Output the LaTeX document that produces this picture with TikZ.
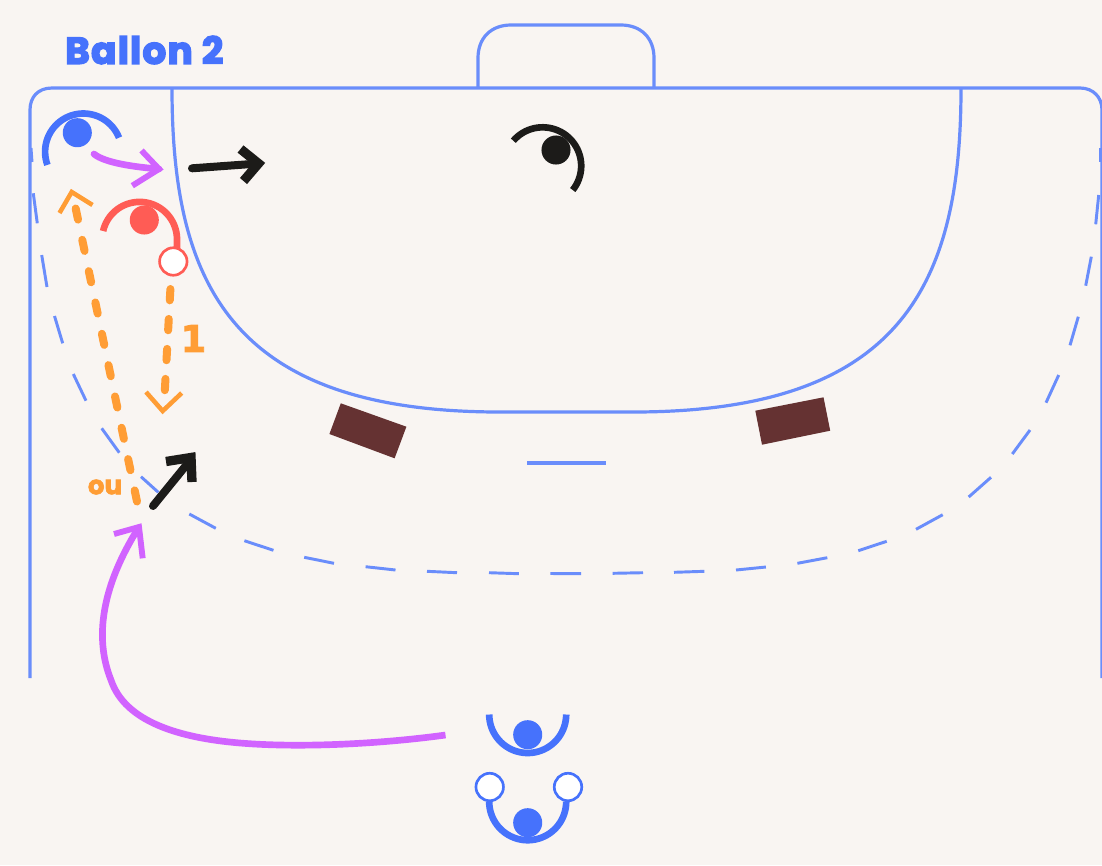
\documentclass[tikz,border=0pt]{standalone}
\usepackage{fontspec}
\newfontfamily\hvfont{Poppins}[BoldFeatures={FakeBold=2.6}]
\newfontfamily\ttlfont{Poppins}[BoldFeatures={FakeBold=4},LetterSpace=3.5]
\newfontfamily\djfont{DejaVu Sans}[BoldFeatures={FakeBold=2.6}]
\definecolor{bg}{HTML}{F9F5F2}
\definecolor{court}{HTML}{6A8DFB}
\definecolor{bluep}{HTML}{4672FC}
\definecolor{redp}{HTML}{FF5C55}
\definecolor{blackp}{HTML}{1C1B19}
\definecolor{purp}{HTML}{D163FF}
\definecolor{oran}{HTML}{FF9D35}
\definecolor{brownp}{HTML}{653232}
\tikzset{
  courtline/.style={draw=court,line width=2.4pt},
  courtdash/.style={draw=court,line width=2.2pt},
  post/.style={fill=brownp},
  playerdot/.style={circle,inner sep=0pt,minimum size=21.8pt,fill=#1},
  ballnode/.style={circle,inner sep=0pt,minimum size=20.6pt,fill=white,draw=#1,line width=2pt},
  armarc/.style={draw=#1,line width=5pt},
  orangedash/.style={draw=oran,line width=6pt,line cap=round},
  orangehead/.style={draw=oran,line width=3.4pt,miter limit=10},
  purpleline/.style={draw=purp,line width=5pt},
  purplehead/.style={draw=purp,line width=4.4pt,miter limit=10},
  blackline/.style={draw=blackp,line width=6pt,line cap=round},
  blackhead/.style={draw=blackp,line width=7pt,miter limit=10},
}
\newcommand{\armcurve}[6]{\draw[armarc=#1] plot[domain=#5:#6,samples=40,smooth] ({#2+#4*cos(\x)},{#3+#4*sin(\x)});}
\begin{document}
\begin{tikzpicture}[x=0.75pt,y=-0.75pt]
\useasboundingbox (0,0) rectangle (1102,865);
\fill[bg] (0,0) rectangle (1102,865);
% court
\draw[courtline] (30,678) -- (30,110) .. controls (30,97) and (38,88) .. (52,88) -- (1080,88) .. controls (1093,88) and (1102,97) .. (1102,110) -- (1102,678);
\draw[courtline] (478,88) -- (478,58) .. controls (478,38) and (491,25) .. (511,25) -- (621,25) .. controls (641,25) and (654,38) .. (654,58) -- (654,88);
\draw[courtline] (172,88) .. controls (172,285) and (232,412) .. (500,412) -- (633,412) .. controls (901,412) and (961,285) .. (961,88);
\draw[courtline] (527,463) -- (606,463);
\foreach \a/\b/\c/\d in {
 31/148/32/162, 33.3/193.3/37.3/223.3, 41.7/255/47/287, 54.5/316/62.7/343.3,
 73.3/374/86/400.7, 101.7/428.3/119.3/452.7, 141/476.7/158.3/492.3,
 189.3/514/215.8/528.3, 244.4/540.7/273.4/550.3, 304.2/557.3/334/563.3,
 365.6/566.7/395.5/570, 427/571.3/457/572.7, 489/572.7/518.8/573.7,
 550.4/573.5/581/573.7, 612.7/573.3/643/572.7, 674/572.3/704.4/571.3,
 736/570/765.9/567, 797.4/563.3/827.3/557.7, 858.3/550.7/886.7/541.3,
 916/529.3/942.7/514.7, 968.7/497/991/477.3, 1012.3/454/1030/430,
 1046/402.7/1058.7/375, 1070/345.3/1078.3/316.7, 1085.7/285.7/1091.3/256.7,
 1095.7/224.3/1098.7/195, 1100.5/148/1100.5/162}
 {\draw[courtdash] (\a,\b) -- (\c,\d);}
% posts
\fill[post] (340.8,403.3) -- (406.4,426.7) -- (394.6,458.3) -- (329.4,434) -- cycle;
\fill[post] (755.3,410.7) -- (823.5,397.3) -- (830.2,430.7) -- (762,444.7) -- cycle;
% title
\node[anchor=west,inner sep=0pt,text=bluep,font=\ttlfont\bfseries\fontsize{28pt}{30pt}\selectfont] (title) at (65,50) {Ballon 2};
% players
\node[playerdot=bluep] (pblue) at (77.3,132.7) {};
\armcurve{bluep}{83.4}{151.8}{38.3}{160}{338.4}
\node[playerdot=redp] (pred) at (144.3,220) {};
\draw[armarc=redp] plot[domain=192.8:356.5,samples=40,smooth] ({139.6+37.4*cos(\x)},{239.3+37.4*sin(\x)}) -- (177,252);
\node[ballnode=redp] (bred) at (173.3,261.5) {};
\node[playerdot=blackp] (pblack) at (556,150) {};
\armcurve{blackp}{542.6}{165.9}{38.6}{220.7}{398.7}
\node[playerdot=bluep] (pb1) at (527.7,734.7) {};
\armcurve{bluep}{527.7}{714.5}{38.5}{0}{180}
\node[playerdot=bluep] (pb2) at (527.7,822.7) {};
\armcurve{bluep}{527.7}{801.7}{38.5}{0}{180}
\node[ballnode=bluep] (bl) at (489.7,787) {};
\node[ballnode=bluep] (br) at (568,787) {};
% named ends
\coordinate (o1s) at (170.4,289);
\coordinate (o1e) at (164.8,391);
\coordinate (o2s) at (137,501.5);
\coordinate (o2e) at (75.7,208.5);
\coordinate (b1s) at (192,168.3);
\coordinate (b1e) at (256,163.7);
\coordinate (b2s) at (153,506);
\coordinate (b2e) at (188,463);
\coordinate (p1s) at (94,154);
\coordinate (p1e) at (159,169);
\coordinate (p2s) at (445.5,735);
\coordinate (p2e) at (139,527);
% orange
\draw[orangedash,dash pattern=on 8.5pt off 14pt] (o1s) -- (o1e);
\draw[orangehead] (146,392) -- (162.7,411) -- (181.7,393);
\draw[orangedash,dash pattern=on 8.5pt off 15.5pt] (o2e) -- (o2s);
\draw[orangehead] (59.5,213) -- (71.7,192) -- (92.5,205);
\node[inner sep=0pt,text=oran,font=\djfont\bfseries\fontsize{27.5pt}{30pt}\selectfont] (one) at (193.5,338.5) {1};
\node[inner sep=0pt,text=oran,font=\hvfont\bfseries\fontsize{19.5pt}{20pt}\selectfont] (ou) at (105,487) {ou};
% black arrows
\draw[blackline] (b1s) -- (b1e);
\draw[blackhead] (240.5,149) -- (258.5,163.5) -- (243.5,181);
\draw[blackline] (b2s) -- (b2e);
\draw[blackhead] (166,461.5) -- (191,457.5) -- (192,482);
% purple
\draw[purpleline,line cap=round] (p1s) .. controls (105,163) and (135,167) .. (p1e);
\draw[purplehead] (141.5,150.5) -- (159,169) -- (132.3,185.7);
\draw[purpleline] (p2s) .. controls (380,744) and (300,748) .. (240,743) .. controls (180,738) and (125,722) .. (111,680) .. controls (99,650) and (93,600) .. (p2e);
\draw[purplehead] (114,534) -- (139,527) -- (142.7,558.3);
\end{tikzpicture}
\end{document}
